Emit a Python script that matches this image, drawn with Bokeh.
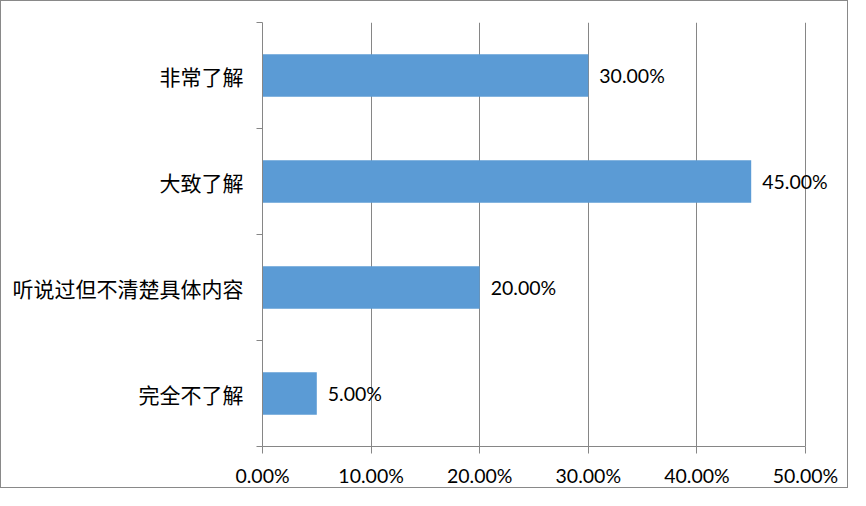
from bokeh.plotting import figure
from bokeh.models import FixedTicker, NumeralTickFormatter, Range1d, ColumnDataSource, LabelSet
from bokeh.core.properties import value
from bokeh.embed import file_html
from bokeh.resources import INLINE

categories = ["完全不了解", "听说过但不清楚具体内容", "大致了解", "非常了解"]
values = [0.05, 0.20, 0.45, 0.30]
x_ticks = [0.0, 0.1, 0.2, 0.3, 0.4, 0.5]

positions = [i + 0.5 for i in range(len(categories))]
labels = ["{:.2f}%".format(v * 100) for v in values]
src = ColumnDataSource(dict(y=positions, v=values, lab=labels))

W, H = 848, 488
left_px, top_px, bottom_px = 261, 21, 37
axis_end_px = 804          # where 50% sits in canvas pixels
frame_right_px = 846       # frame extended so labels are not clipped
x_max = x_ticks[-1]
x_end = x_max * (frame_right_px - left_px) / (axis_end_px - left_px)

p = figure(width=W, height=H, output_backend="svg", toolbar_location=None,
           x_range=Range1d(0, x_end), y_range=Range1d(0, len(categories)))
p.styles = {"border": "1px solid #898989"}
p.min_border_left = left_px
p.min_border_right = W - frame_right_px
p.min_border_top = top_px
p.min_border_bottom = bottom_px
p.outline_line_color = None
p.background_fill_color = "white"
p.border_fill_color = "white"

p.hbar(y="y", right="v", left=0, height=0.4, source=src, color="#5B9BD5", line_color=None)
p.add_layout(LabelSet(x="v", y="y", text="lab", source=src, x_offset=11, text_baseline="middle",
                      text_align="left", text_font=value("Lato"), text_font_size="19.5px",
                      text_color="#000000"))

xa = p.xaxis[0]
xa.ticker = FixedTicker(ticks=x_ticks)
xa.bounds = (x_ticks[0], x_max)
xa.formatter = NumeralTickFormatter(format="0.00%")
xa.axis_line_color = "#868686"
xa.major_tick_line_color = "#868686"
xa.major_tick_in = 0
xa.major_tick_out = 7
xa.minor_tick_line_color = None
xa.major_label_text_font = "Lato"
xa.major_label_text_font_size = "19.5px"
xa.major_label_text_color = "#000000"
xa.major_label_standoff = 10

# y axis
ya = p.yaxis[0]
ya.ticker = FixedTicker(ticks=positions, minor_ticks=[0, 1, 2, 3, 4])
ya.major_label_overrides = {pos: c for pos, c in zip(positions, categories)}
ya.axis_line_color = "#868686"
ya.major_tick_line_color = None
ya.major_tick_in = 0
ya.major_tick_out = 0
ya.minor_tick_line_color = "#868686"
ya.minor_tick_in = 0
ya.minor_tick_out = 6
ya.major_label_text_font = "Noto Sans CJK SC"
ya.major_label_text_font_size = "21px"
ya.major_label_text_color = "#000000"
ya.major_label_standoff = 13

p.ygrid.grid_line_color = None
p.xgrid.grid_line_color = "#868686"
p.xgrid.ticker = FixedTicker(ticks=x_ticks)

open("out.html", "w").write(file_html(p, INLINE))
